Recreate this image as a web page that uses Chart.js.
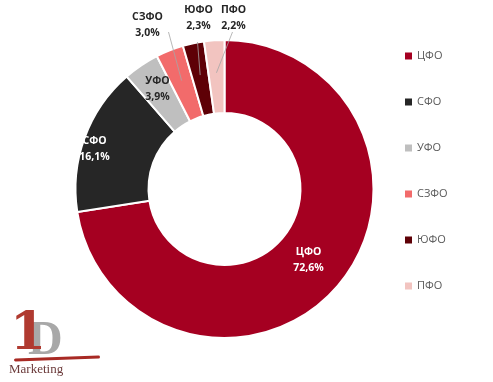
<!DOCTYPE html>
<html>
<head>
<meta charset="utf-8">
<script src="https://cdn.jsdelivr.net/npm/chart.js@4.4.1/dist/chart.umd.min.js"></script>
<style>
  html, body { margin: 0; padding: 0; background: #fff; }
  #wrap { position: relative; width: 493px; height: 382px; }
  #logo { position: absolute; left: 0px; top: 300px; width: 110px; height: 82px; }
  #logo .one { position: absolute; left: 10px; top: 0px; font: bold 52px "DejaVu Serif", serif; color: #b03a30; }
  #logo .d { position: absolute; left: 28px; top: 10px; font: bold 48px "Liberation Serif", serif; color: #a8a8a8; }
  #logo .swoosh { position: absolute; left: 14px; top: 57px; width: 86px; height: 3px; background: #a82a24; border-radius: 2px; transform: rotate(-2deg); }
  #logo .mk { position: absolute; left: 9px; top: 61px; font: 13px "Liberation Serif", serif; color: #6b3a3a; }
</style>
</head>
<body>
<div id="wrap">
  <canvas id="chart" width="493" height="382"></canvas>
  <div id="logo"><span class="d">D</span><span class="one">1</span><span class="swoosh"></span><span class="mk">Marketing</span></div>
</div>
<script>
const regions = ["ЦФО", "СФО", "УФО", "СЗФО", "ЮФО", "ПФО"];
const shares = [72.6, 16.1, 3.9, 3.0, 2.3, 2.2];
const shareText = ["72,6%", "16,1%", "3,9%", "3,0%", "2,3%", "2,2%"];
const colors = ["#a50021", "#262626", "#bfbfbf", "#f26b6b", "#5e0006", "#f2c4c0"];

// label placement (relative to doughnut centre) and label colours
const labelPos = [[84, 71], [-130, -40], [-67, -100], [-77, -164], [-26, -171], [9, -171]];
const labelColor = ["#fff", "#fff", "#262626", "#262626", "#262626", "#262626"];
const withLeader = [false, false, false, true, true, true];

const sliceLabels = {
  id: "sliceLabels",
  afterDatasetsDraw(chart) {
    const ctx = chart.ctx;
    const arcs = chart.getDatasetMeta(0).data;
    ctx.save();
    ctx.font = "bold 10.5px 'Open Sans', sans-serif";
    ctx.textAlign = "center";
    ctx.textBaseline = "middle";
    arcs.forEach((arc, i) => {
      const cx = arc.x, cy = arc.y;
      const lx = cx + labelPos[i][0], ly = cy + labelPos[i][1];
      if (withLeader[i]) {
        const mid = (arc.startAngle + arc.endAngle) / 2;
        const r = (arc.innerRadius + arc.outerRadius) / 2 + 4;
        ctx.strokeStyle = "#a6a6a6";
        ctx.lineWidth = 0.8;
        ctx.beginPath();
        ctx.moveTo(lx + (i === 3 ? 21 : -1), ly + (i === 3 ? 7 : i === 5 ? 14 : 24));
        ctx.lineTo(cx + Math.cos(mid) * r, cy + Math.sin(mid) * r);
        ctx.stroke();
      }
      ctx.fillStyle = labelColor[i];
      ctx.fillText(regions[i], lx, ly - 8);
      ctx.fillText(shareText[i], lx, ly + 8);
    });
    ctx.restore();
  }
};

const sideLegend = {
  id: "sideLegend",
  afterDraw(chart) {
    const ctx = chart.ctx;
    ctx.save();
    ctx.font = "11px 'Open Sans', sans-serif";
    ctx.textBaseline = "middle";
    ctx.textAlign = "left";
    regions.forEach((name, i) => {
      const y = 56 + i * 46;
      ctx.fillStyle = colors[i];
      ctx.fillRect(405, y - 3.5, 7, 7);
      ctx.fillStyle = "#595959";
      ctx.fillText(name, 417, y);
    });
    ctx.restore();
  }
};

new Chart(document.getElementById("chart"), {
  type: "doughnut",
  data: {
    labels: regions,
    datasets: [{
      data: shares,
      backgroundColor: colors,
      borderColor: "#fff",
      borderWidth: 2
    }]
  },
  options: {
    responsive: false,
    animation: false,
    cutout: "51%",
    layout: { padding: { left: 74, right: 118, top: 39, bottom: 43 } },
    plugins: {
      legend: { display: false },
      tooltip: { enabled: false }
    }
  },
  plugins: [sliceLabels, sideLegend]
});
</script>
</body>
</html>
